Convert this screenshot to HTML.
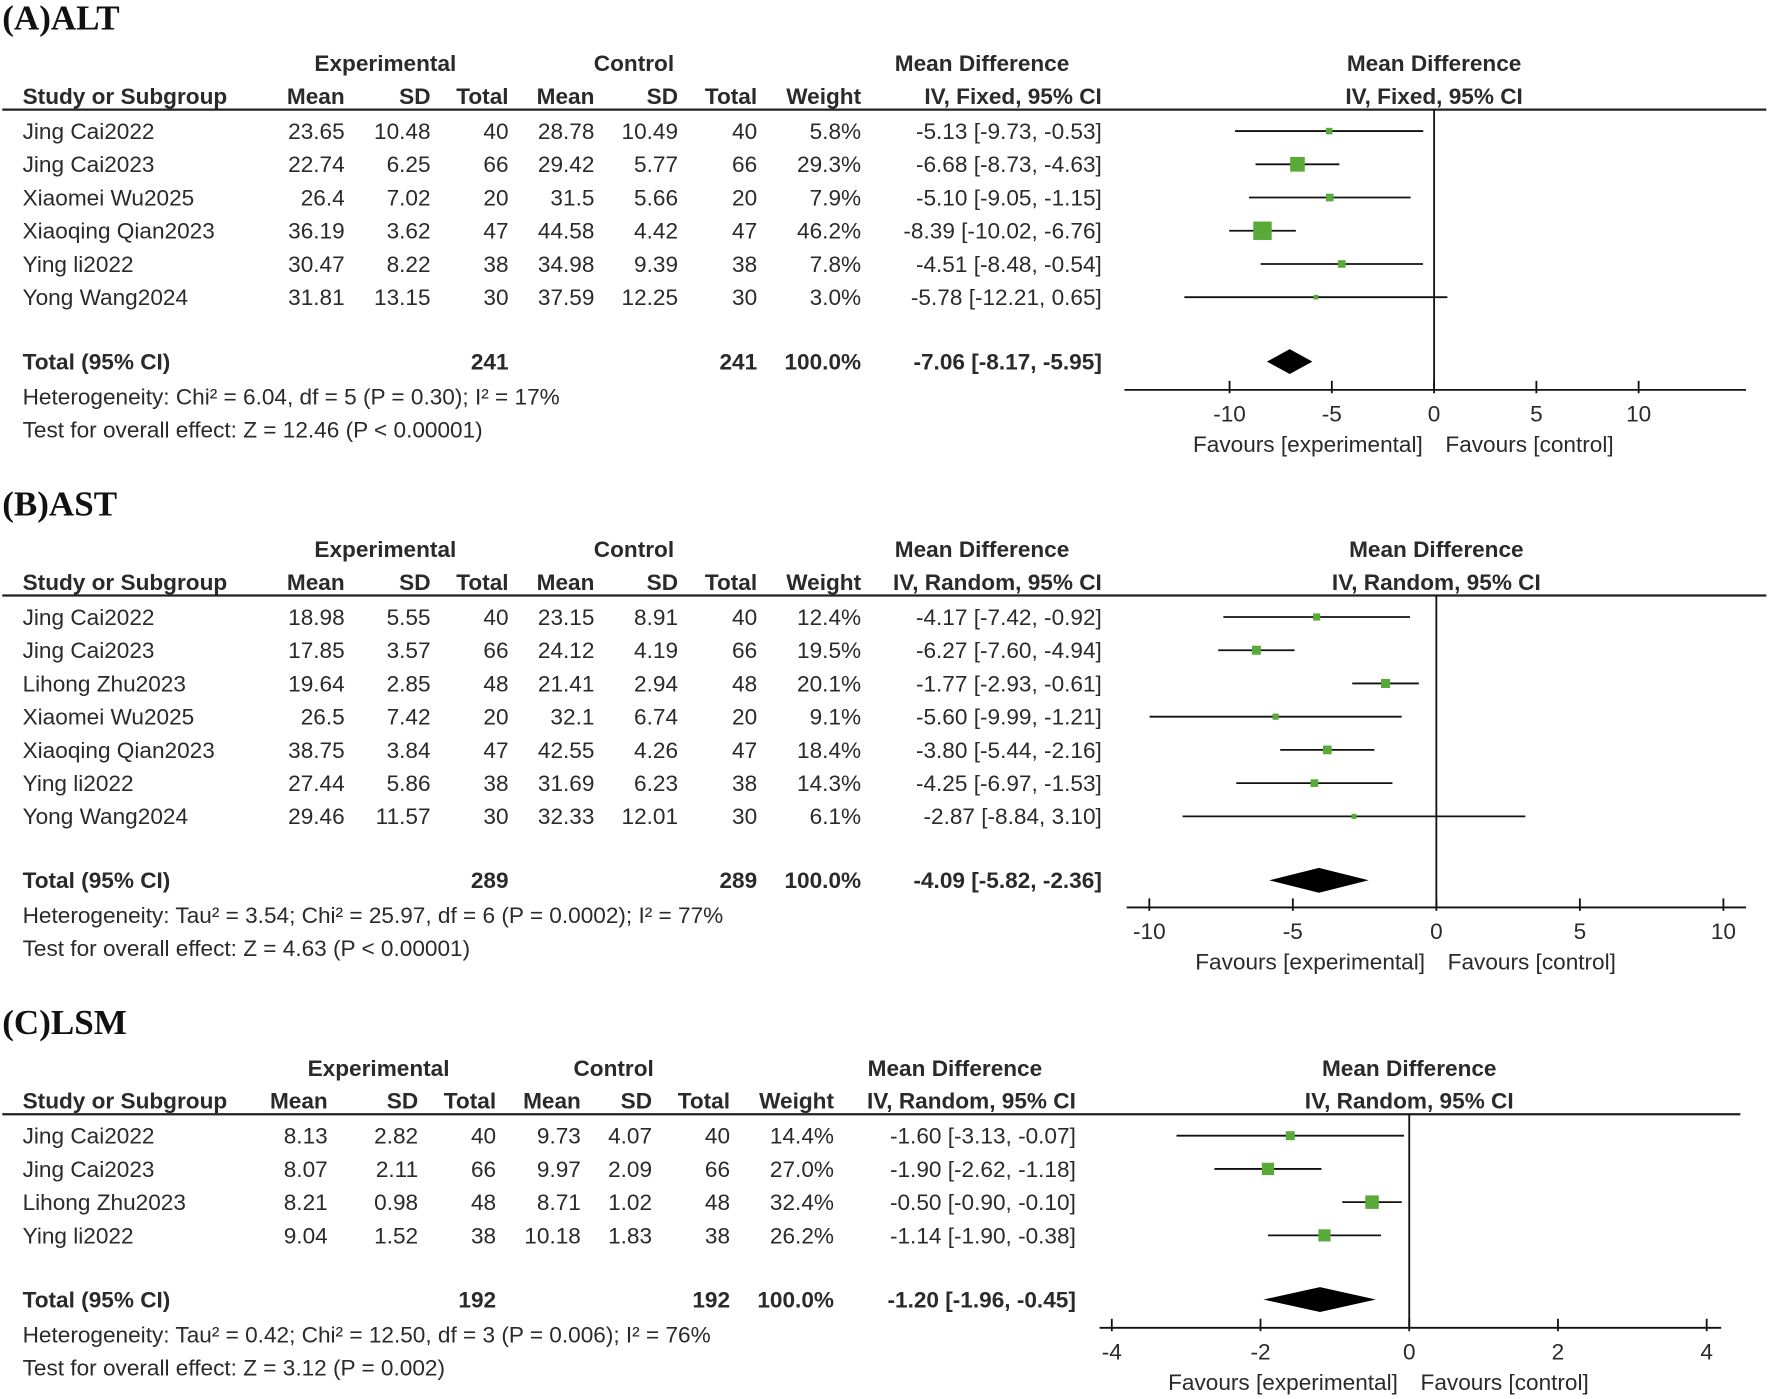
<!DOCTYPE html>
<html><head><meta charset="utf-8"><style>
html,body{margin:0;padding:0;background:#fff;}
svg{display:block;}
text{font-family:"Liberation Sans",Arial,sans-serif;fill:#2a2a2a;}
.t{font-size:20px;}
.b{font-size:20px;font-weight:bold;}
.title{font-family:"Liberation Serif",serif;font-size:31px;font-weight:bold;fill:#111;}
</style></head><body>
<svg id="fig" width="1772" height="1399" viewBox="0 0 1568 1238" preserveAspectRatio="none" xmlns="http://www.w3.org/2000/svg"></svg>
<script>
// ---- Panel A: ALT ----
const altStudies=["Jing Cai2022","Jing Cai2023","Xiaomei Wu2025","Xiaoqing Qian2023","Ying li2022","Yong Wang2024"];
const altExpMean=["23.65","22.74","26.4","36.19","30.47","31.81"];
const altExpSD=["10.48","6.25","7.02","3.62","8.22","13.15"];
const altExpN=["40","66","20","47","38","30"];
const altCtlMean=["28.78","29.42","31.5","44.58","34.98","37.59"];
const altCtlSD=["10.49","5.77","5.66","4.42","9.39","12.25"];
const altCtlN=["40","66","20","47","38","30"];
const altWeight=[5.8,29.3,7.9,46.2,7.8,3.0];
const altMD=[-5.13,-6.68,-5.10,-8.39,-4.51,-5.78];
const altLo=[-9.73,-8.73,-9.05,-10.02,-8.48,-12.21];
const altHi=[-0.53,-4.63,-1.15,-6.76,-0.54,0.65];
const altTotal=[-7.06,-8.17,-5.95];
const altTicks=[-10,-5,0,5,10];
// ---- Panel B: AST ----
const astStudies=["Jing Cai2022","Jing Cai2023","Lihong Zhu2023","Xiaomei Wu2025","Xiaoqing Qian2023","Ying li2022","Yong Wang2024"];
const astExpMean=["18.98","17.85","19.64","26.5","38.75","27.44","29.46"];
const astExpSD=["5.55","3.57","2.85","7.42","3.84","5.86","11.57"];
const astExpN=["40","66","48","20","47","38","30"];
const astCtlMean=["23.15","24.12","21.41","32.1","42.55","31.69","32.33"];
const astCtlSD=["8.91","4.19","2.94","6.74","4.26","6.23","12.01"];
const astCtlN=["40","66","48","20","47","38","30"];
const astWeight=[12.4,19.5,20.1,9.1,18.4,14.3,6.1];
const astMD=[-4.17,-6.27,-1.77,-5.60,-3.80,-4.25,-2.87];
const astLo=[-7.42,-7.60,-2.93,-9.99,-5.44,-6.97,-8.84];
const astHi=[-0.92,-4.94,-0.61,-1.21,-2.16,-1.53,3.10];
const astTotal=[-4.09,-5.82,-2.36];
const astTicks=[-10,-5,0,5,10];
// ---- Panel C: LSM ----
const lsmStudies=["Jing Cai2022","Jing Cai2023","Lihong Zhu2023","Ying li2022"];
const lsmExpMean=["8.13","8.07","8.21","9.04"];
const lsmExpSD=["2.82","2.11","0.98","1.52"];
const lsmExpN=["40","66","48","38"];
const lsmCtlMean=["9.73","9.97","8.71","10.18"];
const lsmCtlSD=["4.07","2.09","1.02","1.83"];
const lsmCtlN=["40","66","48","38"];
const lsmWeight=[14.4,27.0,32.4,26.2];
const lsmMD=[-1.60,-1.90,-0.50,-1.14];
const lsmLo=[-3.13,-2.62,-0.90,-1.90];
const lsmHi=[-0.07,-1.18,-0.10,-0.38];
const lsmTotal=[-1.20,-1.96,-0.45];
const lsmTicks=[-4,-2,0,2,4];

const svg=document.getElementById('fig');
const NS="http://www.w3.org/2000/svg";
function mk(tag,attrs,parent){const e=document.createElementNS(NS,tag);for(const k in attrs)e.setAttribute(k,attrs[k]);(parent||svg).appendChild(e);return e;}
function txt(s,x,y,cls,anchor,name,parent){const e=mk('text',{x:x,y:y,class:cls,'text-anchor':anchor||'start'},parent);e.textContent=s;


return e;}
function fmt(v){return (v<0?'-':'')+Math.abs(v).toFixed(2);}

function panel(p){
  const g=mk('g',{});
  
  
  txt(p.title,2,p.y0+26,'title','start',p.id+'-title',g);
  const c=p.cols;
  const h1=p.y0+63, h2=p.y0+92;
  txt('Experimental',c.expC,h1,'b','middle','experimental-header',g);
  txt('Control',c.ctlC,h1,'b','middle','control-header',g);
  txt('Mean Difference',c.mdC,h1,'b','middle','mean-difference-header',g);
  txt('Mean Difference',p.zeroX,h1,'b','middle','forest-header',g);
  txt('Study or Subgroup',20,h2,'b','start','study-column-header',g);
  txt('Mean',c.m1,h2,'b','end','exp-mean-header',g);
  txt('SD',c.s1,h2,'b','end','exp-sd-header',g);
  txt('Total',c.n1,h2,'b','end','exp-total-header',g);
  txt('Mean',c.m2,h2,'b','end','ctl-mean-header',g);
  txt('SD',c.s2,h2,'b','end','ctl-sd-header',g);
  txt('Total',c.n2,h2,'b','end','ctl-total-header',g);
  txt('Weight',c.w,h2,'b','end','weight-header',g);
  txt(p.method,c.ci,h2,'b','end','ci-header',g);
  txt(p.method,p.zeroX,h2,'b','middle','forest-method-header',g);
  const hl=mk('line',{x1:2,x2:p.lineEnd,y1:p.y0+97,y2:p.y0+97,stroke:'#222','stroke-width':2},g);
  
  
  const X=v=>p.zeroX+v*p.ppu;
  const rowY=i=>p.y0+116+i*29.4;
  for(let i=0;i<p.studies.length;i++){
    const y=rowY(i)+7;
    txt(p.studies[i],20,y,'t','start','study-name',g);
    txt(p.em[i],c.m1,y,'t','end','exp-mean',g);
    txt(p.es[i],c.s1,y,'t','end','exp-sd',g);
    txt(p.en[i],c.n1,y,'t','end','exp-total',g);
    txt(p.cm[i],c.m2,y,'t','end','ctl-mean',g);
    txt(p.cs[i],c.s2,y,'t','end','ctl-sd',g);
    txt(p.cn[i],c.n2,y,'t','end','ctl-total',g);
    txt(p.w[i].toFixed(1)+'%',c.w,y,'t','end','weight',g);
    txt(fmt(p.md[i])+' ['+fmt(p.lo[i])+', '+fmt(p.hi[i])+']',c.ci,y,'t','end','study-ci',g);
    const l=mk('line',{x1:X(p.lo[i]),x2:X(p.hi[i]),y1:rowY(i),y2:rowY(i),stroke:'#111','stroke-width':1.6},g);
    
    
    const s=Math.sqrt(p.w[i])*p.sq;
    const r=mk('rect',{x:X(p.md[i])-s/2,y:rowY(i)-s/2,width:s,height:s,fill:'#5aaa3a'},g);
    
    
  }
  const ty=p.y0+p.totOff;
  txt('Total (95% CI)',20,ty+7,'b','start','total-label',g);
  txt(p.tn,c.n1,ty+7,'b','end','exp-total-n',g);
  txt(p.tn,c.n2,ty+7,'b','end','ctl-total-n',g);
  txt('100.0%',c.w,ty+7,'b','end','total-weight',g);
  txt(fmt(p.tot[0])+' ['+fmt(p.tot[1])+', '+fmt(p.tot[2])+']',c.ci,ty+7,'b','end','total-ci',g);
  const d=mk('polygon',{points:`${X(p.tot[1])},${ty} ${X(p.tot[0])},${ty-11} ${X(p.tot[2])},${ty} ${X(p.tot[0])},${ty+11}`,fill:'#000'},g);
  
  
  txt(p.het,20,ty+38,'t','start','heterogeneity-text',g);
  txt(p.test,20,ty+67,'t','start','overall-effect-text',g);
  const ay=p.y0+p.axOff;
  const z=mk('line',{x1:X(0),x2:X(0),y1:p.y0+97,y2:ay,stroke:'#111','stroke-width':1.6},g);
  
  
  const ax=mk('line',{x1:p.axX1,x2:p.axX2,y1:ay,y2:ay,stroke:'#111','stroke-width':1.6},g);
  
  
  p.ticks.forEach(t=>{
    const tk=mk('line',{x1:X(t),x2:X(t),y1:ay-8,y2:ay+3,stroke:'#111','stroke-width':1.6},g);
    
    
    txt(String(t),X(t),ay+28,'t','middle','x-tick-label',g);
  });
  txt('Favours [experimental]',X(0)-10,ay+55,'t','end','favours-experimental',g);
  txt('Favours [control]',X(0)+10,ay+55,'t','start','favours-control',g);
}
const colsAB={expC:341,ctlC:561,mdC:869,m1:305,s1:381,n1:450,m2:526,s2:600,n2:670,w:762,ci:975};
panel({id:'alt',title:'(A)ALT',y0:0,cols:colsAB,method:'IV, Fixed, 95% CI',zeroX:1269,ppu:18.1,lineEnd:1563,
 studies:altStudies,em:altExpMean,es:altExpSD,en:altExpN,cm:altCtlMean,cs:altCtlSD,cn:altCtlN,w:altWeight,md:altMD,lo:altLo,hi:altHi,
 sq:2.4,tot:altTotal,tn:'241',totOff:320,axOff:345,axX1:995,axX2:1545,ticks:altTicks,
 het:'Heterogeneity: Chi² = 6.04, df = 5 (P = 0.30); I² = 17%',test:'Test for overall effect: Z = 12.46 (P < 0.00001)'});
panel({id:'ast',title:'(B)AST',y0:430,cols:colsAB,method:'IV, Random, 95% CI',zeroX:1271,ppu:25.4,lineEnd:1563,
 studies:astStudies,em:astExpMean,es:astExpSD,en:astExpN,cm:astCtlMean,cs:astCtlSD,cn:astCtlN,w:astWeight,md:astMD,lo:astLo,hi:astHi,
 sq:1.8,tot:astTotal,tn:'289',totOff:349,axOff:373,axX1:997,axX2:1545,ticks:astTicks,
 het:'Heterogeneity: Tau² = 3.54; Chi² = 25.97, df = 6 (P = 0.0002); I² = 77%',test:'Test for overall effect: Z = 4.63 (P < 0.00001)'});
panel({id:'lsm',title:'(C)LSM',y0:889,cols:{expC:335,ctlC:543,mdC:845,m1:290,s1:370,n1:439,m2:514,s2:577,n2:646,w:738,ci:952},
 method:'IV, Random, 95% CI',zeroX:1247,ppu:65.8,lineEnd:1540,
 studies:lsmStudies,em:lsmExpMean,es:lsmExpSD,en:lsmExpN,cm:lsmCtlMean,cs:lsmCtlSD,cn:lsmCtlN,w:lsmWeight,md:lsmMD,lo:lsmLo,hi:lsmHi,
 sq:2.1,tot:lsmTotal,tn:'192',totOff:261,axOff:286,axX1:973,axX2:1523,ticks:lsmTicks,
 het:'Heterogeneity: Tau² = 0.42; Chi² = 12.50, df = 3 (P = 0.006); I² = 76%',test:'Test for overall effect: Z = 3.12 (P = 0.002)'});
</script>
</body></html>
